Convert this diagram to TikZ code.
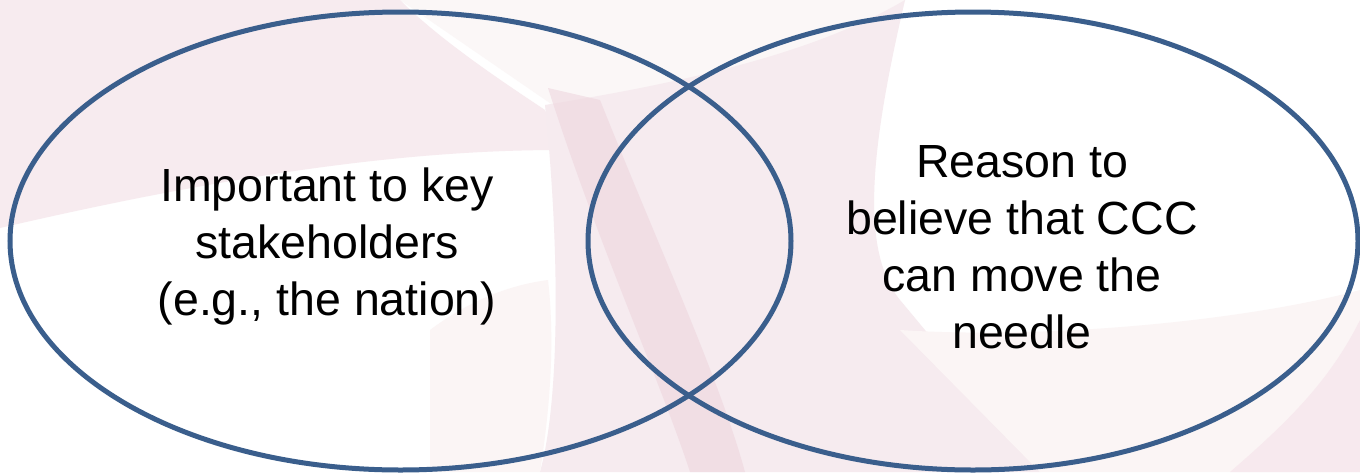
\documentclass[tikz,border=0pt]{standalone}
\usepackage{fontspec}
\setmainfont{Liberation Sans}
\usetikzlibrary{shapes.geometric}
\definecolor{ringblue}{RGB}{58,94,140}
\definecolor{washA}{RGB}{247,235,239}
\definecolor{washB}{RGB}{251,247,247}
\definecolor{washC}{RGB}{246,235,239}
\definecolor{ribbon}{RGB}{238,214,222}
\definecolor{washE}{RGB}{247,233,238}
\definecolor{washF}{RGB}{251,245,245}
\tikzset{
  ring/.style={draw=ringblue, line width=5pt, ellipse, inner sep=0pt, fill=none},
  label/.style={align=center, anchor=base, text=black, font=\fontsize{46.5}{57}\selectfont, inner sep=0pt}
}
\begin{document}
\begin{tikzpicture}[x=1pt,y=-1pt]
\useasboundingbox (0,0) rectangle (1360,472);
% background
\fill[white] (0,0) rectangle (1360,472);
\fill[washB] (400,0) -- (905,0) -- (880,90) -- (560,110) -- cycle;
\fill[washA] (0,0) -- (400,0) .. controls (440,40) and (500,80) .. (545,110)
  -- (560,150) .. controls (420,150) and (250,170) .. (0,228) -- cycle;
\fill[washC] (545,105) .. controls (700,80) and (820,50) .. (905,0)
  .. controls (870,150) and (860,250) .. (900,300)
  .. controls (950,360) and (1000,420) .. (1040,472)
  -- (540,472) .. controls (560,400) and (560,250) .. (545,105) -- cycle;
\fill[washF] (430,330) .. controls (470,300) and (510,285) .. (548,280) .. controls (556,350) and (548,420) .. (540,472) -- (430,472) -- cycle;
\fill[washF] (900,330) .. controls (1050,340) and (1250,320) .. (1360,290) -- (1360,472) -- (1040,472) -- cycle;
\fill[washE] (1230,472) .. controls (1290,420) and (1330,380) .. (1360,320) -- (1360,472) -- cycle;
\fill[ribbon, opacity=0.6] (548,88) -- (600,100) .. controls (660,250) and (720,380) .. (745,472)
  -- (690,472) .. controls (660,380) and (600,250) .. (548,88) -- cycle;
% rings
\node[ring, minimum width=781pt, minimum height=458pt] (left) at (400.5,241) {};
\node[ring, minimum width=770pt, minimum height=458pt] (right) at (973,241) {};
% texts
\node[label] (lefttext) at (327,315) {Important to key\\stakeholders\\(e.g., the nation)};
\node[label] (righttext) at (1022,348) {Reason to\\believe that CCC\\can move the\\needle};
\end{tikzpicture}
\end{document}
